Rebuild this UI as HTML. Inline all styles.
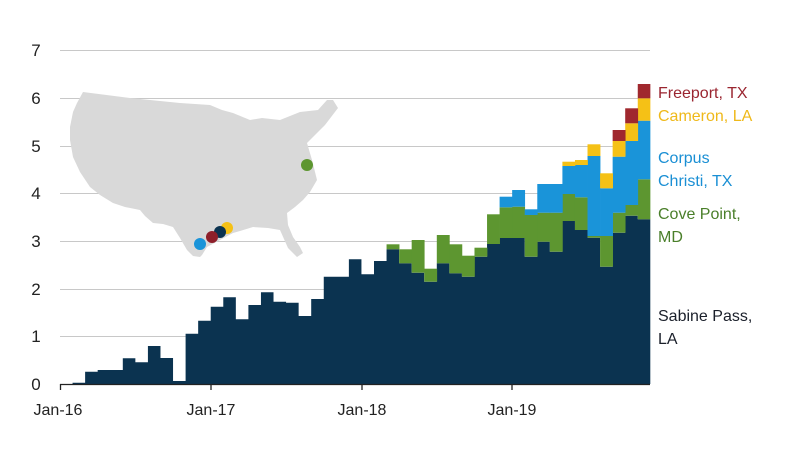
<!DOCTYPE html>
<html><head><meta charset="utf-8"><style>
html,body{margin:0;padding:0;background:#fff;}
svg{display:block;font-family:"Liberation Sans",Arial,sans-serif;}
</style></head><body>
<svg width="800" height="457" viewBox="0 0 800 457" xmlns="http://www.w3.org/2000/svg">
<g stroke="#c8c8c8" stroke-width="1">
<line x1="60" x2="650" y1="50.5" y2="50.5"/>
<line x1="60" x2="650" y1="98.5" y2="98.5"/>
<line x1="60" x2="650" y1="146.5" y2="146.5"/>
<line x1="60" x2="650" y1="193.5" y2="193.5"/>
<line x1="60" x2="650" y1="241.5" y2="241.5"/>
<line x1="60" x2="650" y1="289.5" y2="289.5"/>
<line x1="60" x2="650" y1="336.5" y2="336.5"/>
</g>
<g font-size="17" fill="#222" text-anchor="middle">
<text x="36" y="56">7</text><text x="36" y="104">6</text><text x="36" y="152">5</text>
<text x="36" y="199">4</text><text x="36" y="247">3</text><text x="36" y="295">2</text>
<text x="36" y="342">1</text><text x="36" y="390">0</text>
</g>
<path d="M77,103 L83,92 L130,98 L180,103 L210,105 L222,110 L233,113 L250,120 L262,118 L280,120 L300,112 L318,110 L327,100 L333,100 L338,108 L325,125 L315,135 L307,143 L312,160 L317,180 L310,192 L303,200 L295,207 L287,213 L288,225 L293,237 L300,247 L303,253 L297,257 L288,248 L280,230 L268,228 L253,227 L240,231 L233,233 L220,240 L207,247 L202,255 L200,257 L193,256 L187,250 L180,238 L173,227 L163,224 L153,223 L145,216 L140,210 L125,207 L113,203 L100,195 L90,187 L80,172 L73,157 L70,140 L70,127 L73,112 Z" fill="#d9d9d9"/>
<circle cx="307" cy="165" r="6" fill="#5d9630"/>
<circle cx="227" cy="228" r="6" fill="#f5c116"/>
<circle cx="220" cy="232" r="6" fill="#0b3350"/>
<circle cx="212" cy="237" r="6" fill="#8e1f2a"/>
<circle cx="200" cy="244" r="6" fill="#1a94d9"/>
<path fill="#0b3350" d="M60,384 H72.56 V382.7 H85.12 V371.7 H97.68 V370 H122.8 V358.3 H135.36 V362.3 H147.92 V346 H160.48 V358 H173.04 V381 H185.6 V333.7 H198.16 V320.7 H210.72 V306.7 H223.28 V297.3 H235.84 V319.3 H248.4 V305 H260.96 V292.3 H273.52 V301.7 H286.08 V302.7 H298.64 V316 H311.2 V299 H323.76 V276.7 H348.88 V259.3 H361.44 V274.3 H374 V261 H386.56 V249.3 H399.12 V263.3 H411.68 V272.7 H424.24 V281.7 H436.8 V263.3 H449.36 V273.3 H461.92 V276.7 H474.48 V256.7 H487.04 V244 H499.6 V238 H524.72 V256.7 H537.28 V241.7 H549.84 V251.7 H562.4 V221 H574.96 V230 H587.52 V237.7 H600.08 V266.7 H612.64 V232.7 H625.2 V215.7 H637.76 V219.3 H650.3 V384 Z"/>
<g fill="#5d9630">
<rect x="386.56" y="244.3" width="12.9" height="5.0"/>
<rect x="399.12" y="249.3" width="12.9" height="14.0"/>
<rect x="411.68" y="240" width="12.9" height="32.7"/>
<rect x="424.24" y="268.7" width="12.9" height="13.0"/>
<rect x="436.80" y="235" width="12.9" height="28.3"/>
<rect x="449.36" y="244.3" width="12.9" height="29.0"/>
<rect x="461.92" y="255.7" width="12.9" height="21.0"/>
<rect x="474.48" y="247.7" width="12.9" height="9.0"/>
<rect x="487.04" y="214.3" width="12.9" height="29.7"/>
<rect x="499.60" y="207.3" width="12.9" height="30.7"/>
<rect x="512.16" y="206.7" width="12.9" height="31.3"/>
<rect x="524.72" y="215" width="12.9" height="41.7"/>
<rect x="537.28" y="212.7" width="12.9" height="29.0"/>
<rect x="549.84" y="212.7" width="12.9" height="39.0"/>
<rect x="562.40" y="194" width="12.9" height="27.0"/>
<rect x="574.96" y="197.3" width="12.9" height="32.7"/>
<rect x="587.52" y="236" width="12.9" height="1.7"/>
<rect x="600.08" y="236" width="12.9" height="30.7"/>
<rect x="612.64" y="212.7" width="12.9" height="20.0"/>
<rect x="625.20" y="205" width="12.9" height="10.7"/>
<rect x="637.76" y="179.3" width="12.6" height="40.0"/>
</g>
<g fill="#1a94d9">
<rect x="499.60" y="196.7" width="12.9" height="10.6"/>
<rect x="512.16" y="190" width="12.9" height="16.7"/>
<rect x="524.72" y="209.3" width="12.9" height="5.7"/>
<rect x="537.28" y="184" width="12.9" height="28.7"/>
<rect x="549.84" y="184" width="12.9" height="28.7"/>
<rect x="562.40" y="166" width="12.9" height="28"/>
<rect x="574.96" y="165" width="12.9" height="32.3"/>
<rect x="587.52" y="156" width="12.9" height="80"/>
<rect x="600.08" y="188.3" width="12.9" height="47.7"/>
<rect x="612.64" y="156.7" width="12.9" height="56"/>
<rect x="625.20" y="141" width="12.9" height="64"/>
<rect x="637.76" y="120.7" width="12.6" height="58.6"/>
</g>
<g fill="#f5c116">
<rect x="562.40" y="161.7" width="12.9" height="4.3"/>
<rect x="574.96" y="160" width="12.9" height="5"/>
<rect x="587.52" y="144.3" width="12.9" height="11.7"/>
<rect x="600.08" y="173.3" width="12.9" height="15"/>
<rect x="612.64" y="141" width="12.9" height="15.7"/>
<rect x="625.20" y="123.3" width="12.9" height="17.7"/>
<rect x="637.76" y="98.3" width="12.6" height="22.4"/>
</g>
<g fill="#a0282e">
<rect x="612.64" y="130" width="12.9" height="11"/>
<rect x="625.20" y="108.3" width="12.9" height="15"/>
<rect x="637.76" y="84" width="12.6" height="14.3"/>
</g>
<line x1="60" x2="650" y1="384.5" y2="384.5" stroke="#222" stroke-width="1.3"/>
<g stroke="#222" stroke-width="1.3">
<line x1="60.5" x2="60.5" y1="384" y2="390"/>
<line x1="211" x2="211" y1="384" y2="390"/>
<line x1="362" x2="362" y1="384" y2="390"/>
<line x1="512" x2="512" y1="384" y2="390"/>
</g>
<g font-size="16" fill="#222" text-anchor="middle">
<text x="58" y="415">Jan-16</text><text x="211" y="415">Jan-17</text>
<text x="362" y="415">Jan-18</text><text x="512" y="415">Jan-19</text>
</g>
<g font-size="16">
<text x="658" y="98" fill="#9a2530">Freeport, TX</text>
<text x="658" y="121" fill="#efb91a">Cameron, LA</text>
<text x="658" y="163" fill="#1a8fd4">Corpus</text>
<text x="658" y="186" fill="#1a8fd4">Christi, TX</text>
<text x="658" y="219" fill="#4a7f2a">Cove Point,</text>
<text x="658" y="242" fill="#4a7f2a">MD</text>
<text x="658" y="321" fill="#1a1f2a">Sabine Pass,</text>
<text x="658" y="344" fill="#1a1f2a">LA</text>
</g>
</svg>
</body></html>
